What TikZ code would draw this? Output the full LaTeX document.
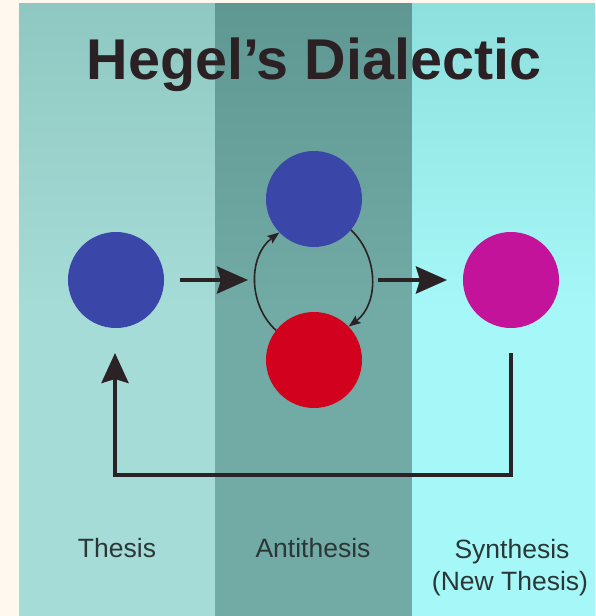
\documentclass[tikz,border=0pt]{standalone}
\usepackage{fontspec}
\setmainfont{Liberation Sans}
\usetikzlibrary{arrows.meta}
\definecolor{cream}{HTML}{FFF8EE}
\definecolor{leftbg}{HTML}{A6DCD7}
\definecolor{leftbgtop}{HTML}{8FC8C2}
\definecolor{midbg}{HTML}{72AAA5}
\definecolor{midbgtop}{HTML}{5F9893}
\definecolor{rightbg}{HTML}{A6F7F7}
\definecolor{rightbgtop}{HTML}{8EE0DE}
\definecolor{titlecol}{HTML}{2B2124}
\definecolor{labelcol}{HTML}{2B3737}
\definecolor{blueA}{HTML}{3A46A8}
\definecolor{redA}{HTML}{D2021E}
\definecolor{magA}{HTML}{C3139A}
\definecolor{arrowcol}{HTML}{2A2224}
\tikzset{
  ball/.style={circle, minimum size=96pt, inner sep=0pt, draw=none},
  bigarrow/.style={draw=arrowcol, line width=4pt, -{Stealth[length=31pt,width=27pt,inset=4pt]}},
  thinarrow/.style={draw=arrowcol, line width=1.6pt, -{Stealth[length=12pt,width=9pt,inset=2pt]}},
  fbarrow/.style={draw=arrowcol, line width=4pt, -{Stealth[length=30pt,width=27pt,inset=4pt]}},
  lbl/.style={text=labelcol, font=\fontsize{26.5}{32}\selectfont, anchor=base, inner sep=0pt},
}
\begin{document}
\begin{tikzpicture}[x=1pt,y=-1pt]
\useasboundingbox (0,0) rectangle (595,616);
\fill[cream] (0,0) rectangle (595,616);
% panels
\shade[top color=leftbgtop, bottom color=leftbg, middle color=leftbg] (19,3) rectangle (215,616);
\shade[top color=midbgtop, bottom color=midbg, middle color=midbg] (215,3) rectangle (412,616);
\shade[top color=rightbgtop, bottom color=rightbg, middle color=rightbg] (412,3) rectangle (595,616);
% title
\node[text=titlecol, font=\bfseries\fontsize{57.5}{66}\selectfont, anchor=base, inner sep=0pt] (title) at (314,79) {Hegel’s Dialectic};
% circles
\node[ball, fill=blueA] (thesis) at (116,280) {};
\node[ball, fill=blueA] (anti1) at (314,199) {};
\node[ball, fill=redA] (anti2) at (314,360) {};
\node[ball, fill=magA] (synth) at (511,280) {};
% main arrows
\coordinate (a1s) at (180,280);
\coordinate (a1e) at (248,280);
\coordinate (a2s) at (378,280);
\coordinate (a2e) at (447,280);
\draw[bigarrow] (a1s) -- (a1e);
\draw[bigarrow] (a2s) -- (a2e);
% cycle arrows
\draw[thinarrow] (anti2.142) .. controls (248,305) and (248,256) .. (anti1.224);
\draw[thinarrow] (anti1.320) .. controls (379,256) and (379,304) .. (anti2.44);
% feedback arrow
\coordinate (fbs) at (511,353);
\coordinate (fbc) at (511,475);
\coordinate (fbe) at (115,353);
\draw[fbarrow] (fbs) -- (fbc) -| (fbe);
% labels
\node[lbl] (lthesis) at (117,557) {Thesis};
\node[lbl] (lanti) at (313,557) {Antithesis};
\node[lbl] (lsyn) at (512,558) {Synthesis};
\node[lbl] (lnew) at (510,590) {(New Thesis)};
\end{tikzpicture}
\end{document}
